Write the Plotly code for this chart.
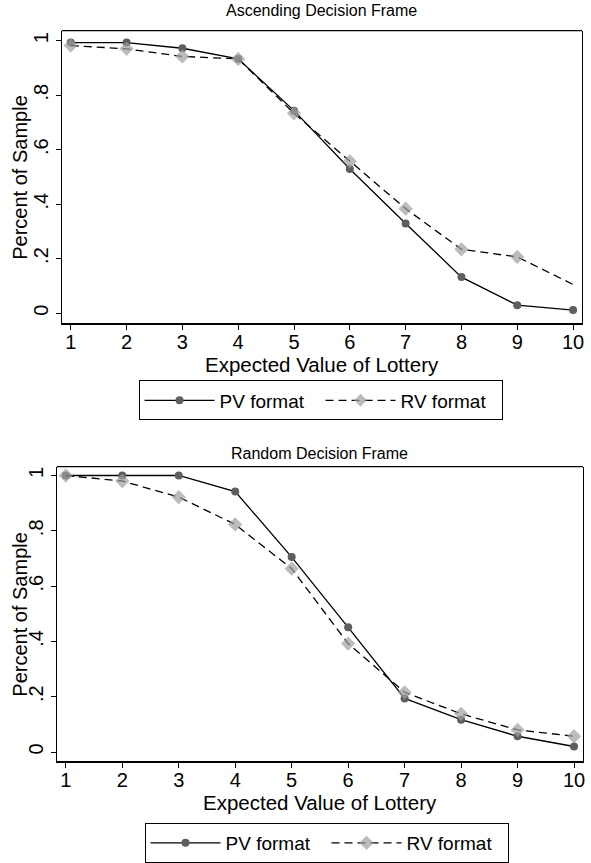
import plotly.graph_objects as go

# ---- data ----
ev = [1, 2, 3, 4, 5, 6, 7, 8, 9, 10]

asc_pv = [0.993, 0.993, 0.972, 0.933, 0.743, 0.529, 0.329, 0.132, 0.029, 0.011]
asc_rv = [0.982, 0.970, 0.942, 0.933, 0.733, 0.557, 0.383, 0.234, 0.206, 0.105]

rnd_pv = [1.000, 1.000, 1.000, 0.942, 0.705, 0.451, 0.194, 0.117, 0.057, 0.020]
rnd_rv = [1.000, 0.980, 0.922, 0.823, 0.663, 0.392, 0.216, 0.138, 0.080, 0.057]

y_tickvals = [0, 0.2, 0.4, 0.6, 0.8, 1]
y_ticktext = ["0", ".2", ".4", ".6", ".8", "1"]

titles = ["Ascending Decision Frame", "Random Decision Frame"]
series_names = ["PV format", "RV format"]
x_title = "Expected Value of Lottery"
y_title = "Percent of Sample"

W, H = 591, 863
FONT = "Liberation Sans, Arial, sans-serif"
PV_MARK = "#5e5e5e"
RV_MARK = "#a0a0a0"


def px_x(p):
    return p / W


def px_y(p):
    return 1 - p / H


fig = go.Figure()

panels = [
    dict(x="x", y="y", xa="xaxis", ya="yaxis", pv=asc_pv, rv=asc_rv, legend="legend",
         xd=[px_x(62), px_x(584)], yd=[px_y(326), px_y(31)],
         xr=[0.84, 10.16], yr=[-0.0364, 1.0364],
         rv_sizes=[11] * 9 + [0], title_y=11, xtitle_y=368, leg=(139, 384)),
    dict(x="x2", y="y2", xa="xaxis2", ya="yaxis2", pv=rnd_pv, rv=rnd_rv, legend="legend2",
         xd=[px_x(57), px_x(585)], yd=[px_y(768), px_y(471)],
         xr=[0.841, 10.159], yr=[-0.032, 1.032],
         rv_sizes=[11] * 10, title_y=458, xtitle_y=810, leg=(145, 831)),
]

legend_style = dict(
    orientation="h", xanchor="left", yanchor="top",
    bordercolor="black", borderwidth=1, bgcolor="white",
    font=dict(family=FONT, size=19, color="black"),
    itemwidth=70, entrywidth=96, entrywidthmode="pixels", tracegroupgap=0,
)

for i, p in enumerate(panels):
    fig.add_trace(go.Scatter(
        x=ev, y=p["pv"], name=series_names[0], mode="lines+markers",
        xaxis=p["x"], yaxis=p["y"], legend=p["legend"],
        line=dict(color="black", width=1.3),
        marker=dict(symbol="circle", size=8, color=PV_MARK, line=dict(width=0)),
    ))
    fig.add_trace(go.Scatter(
        x=ev, y=p["rv"], name=series_names[1], mode="lines+markers",
        xaxis=p["x"], yaxis=p["y"], legend=p["legend"],
        line=dict(color="black", width=1.3, dash="8px,5px"),
        marker=dict(symbol="diamond", size=p["rv_sizes"], color=RV_MARK, line=dict(width=0)),
    ))
    fig.layout[p["xa"]] = dict(
        domain=p["xd"], range=p["xr"], anchor=p["y"],
        tickvals=ev, ticktext=[str(v) for v in ev],
        showline=True, linecolor="black", linewidth=2,
        ticks="outside", ticklen=5, tickcolor="black", tickwidth=1,
        showgrid=False, zeroline=False, ticklabelstandoff=-5,
        tickfont=dict(family=FONT, size=20, color="black"),
    )
    fig.layout[p["ya"]] = dict(
        domain=p["yd"], range=p["yr"], anchor=p["x"],
        tickvals=y_tickvals, ticktext=y_ticktext, tickangle=-90,
        showline=True, linecolor="black", linewidth=1.3, mirror=True,
        ticks="outside", ticklen=5, tickcolor="black", tickwidth=1,
        showgrid=False, zeroline=False,
        tickfont=dict(family=FONT, size=20, color="black"),
    )
    fig.add_shape(type="line", xref=p["x"] + " domain", yref=p["y"] + " domain",
                  x0=0, x1=1, y0=1, y1=1, line=dict(color="black", width=1.2))
    xc = (p["xd"][0] + p["xd"][1]) / 2
    fig.add_annotation(
        text=titles[i], xref="paper", yref="paper",
        x=xc, y=px_y(p["title_y"]), xanchor="center", yanchor="middle", showarrow=False,
        font=dict(family=FONT, size=16, color="black"),
    )
    fig.add_annotation(
        text=x_title, xref="paper", yref="paper",
        x=xc, y=px_y(p["xtitle_y"]), xanchor="center", yanchor="middle", showarrow=False,
        font=dict(family=FONT, size=20.5, color="black"),
    )
    fig.add_annotation(
        text=y_title, xref="paper", yref="paper", textangle=-90,
        x=px_x(20), y=(p["yd"][0] + p["yd"][1]) / 2,
        xanchor="center", yanchor="middle", showarrow=False,
        font=dict(family=FONT, size=20, color="black"),
    )
    fig.layout[p["legend"]] = dict(x=px_x(p["leg"][0]), y=px_y(p["leg"][1]), **legend_style)

fig.update_layout(
    width=W, height=H,
    margin=dict(l=0, r=0, t=0, b=0),
    paper_bgcolor="white", plot_bgcolor="white",
)

fig.write_html(
    "out.html",
    config={"displayModeBar": False},
    post_script="document.body.style.margin='0px';document.body.style.overflow='hidden';",
)
